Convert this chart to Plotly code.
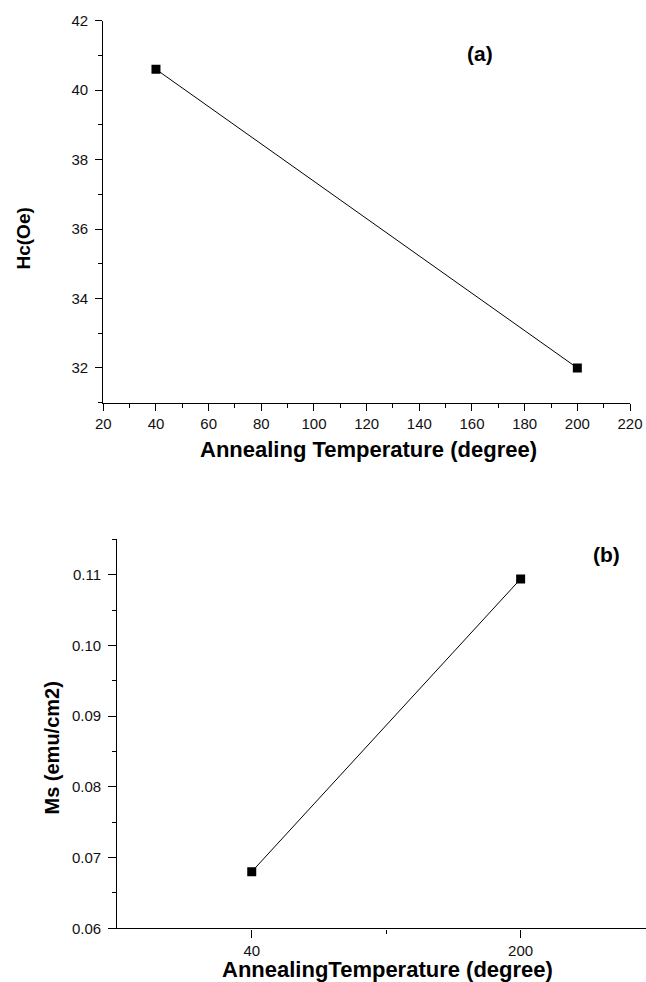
import plotly.graph_objects as go

# Coercivity vs annealing temperature (panel a)
temp_a = [40, 200]
hc_oe = [40.6, 32.0]

# Saturation magnetisation vs annealing temperature (panel b)
temp_b = [40, 200]
ms_emu = [0.068, 0.1094]

W, H = 646, 982
FONT = "Liberation Sans, Arial, sans-serif"


def px_x(p):
    return p / W


def px_y(p):
    return 1 - p / H


fig = go.Figure()

fig.add_trace(go.Scatter(
    x=temp_a, y=hc_oe, mode="lines+markers",
    line=dict(color="black", width=1),
    marker=dict(symbol="square", size=9, color="black"),
    xaxis="x", yaxis="y", showlegend=False,
))
fig.add_trace(go.Scatter(
    x=temp_b, y=ms_emu, mode="lines+markers",
    line=dict(color="black", width=1),
    marker=dict(symbol="square", size=9, color="black"),
    xaxis="x2", yaxis="y2", showlegend=False,
))

tick_font = dict(family=FONT, size=15, color="#111")
axis_common = dict(
    showline=True, linecolor="black", linewidth=1.4,
    showgrid=False, zeroline=False, automargin=False,
    ticks="outside", ticklen=7, tickwidth=1.3, tickcolor="black",
    tickfont=tick_font,
)
minor_common = dict(ticks="outside", ticklen=4, tickwidth=1.3, tickcolor="black")

fig.update_layout(
    width=W, height=H,
    margin=dict(l=0, r=0, t=0, b=0),
    paper_bgcolor="white", plot_bgcolor="white",
    xaxis=dict(
        axis_common, domain=[px_x(103.3), px_x(630)], anchor="y",
        range=[20, 220], tick0=20, dtick=20, ticklabelstandoff=0,
        minor=dict(minor_common, dtick=10),
    ),
    yaxis=dict(
        axis_common, domain=[px_y(402.7), px_y(20.7)], anchor="x",
        range=[31, 42], tick0=32, dtick=2, ticklabelstandoff=4,
        minor=dict(minor_common, dtick=1),
    ),
    xaxis2=dict(
        axis_common, domain=[px_x(117.3), 1.0], anchor="y2",
        range=[-40, 274.6], tickvals=[40, 200], ticklen=8, ticklabelstandoff=0,
        minor=dict(minor_common, tickvals=[120]),
    ),
    yaxis2=dict(
        axis_common, domain=[px_y(928.3), px_y(539.3)], anchor="x2",
        range=[0.06, 0.115], tick0=0.06, dtick=0.01, tickformat=".2f", ticklen=8,
        ticklabelstandoff=4,
        minor=dict(minor_common, dtick=0.005),
    ),
)

annotations = [
    dict(text="<b>Annealing Temperature (degree)</b>", x=px_x(368), y=px_y(449),
         font=dict(family=FONT, size=22, color="black")),
    dict(text="<b>Hc(Oe)</b>", x=px_x(23), y=px_y(238.5), textangle=-90,
         font=dict(family=FONT, size=19, color="black")),
    dict(text="<b>(a)</b>", x=px_x(480), y=px_y(54),
         font=dict(family=FONT, size=21, color="black")),
    dict(text="<b>AnnealingTemperature (degree)</b>", x=px_x(387), y=px_y(969),
         font=dict(family=FONT, size=22, color="black")),
    dict(text="<b>Ms (emu/cm2)</b>", x=px_x(51), y=px_y(748.5), textangle=-90,
         font=dict(family=FONT, size=20, color="black")),
    dict(text="<b>(b)</b>", x=px_x(606.5), y=px_y(554),
         font=dict(family=FONT, size=21, color="black")),
]
for a in annotations:
    a.update(xref="paper", yref="paper", showarrow=False, xanchor="center", yanchor="middle")
fig.update_layout(annotations=annotations)

fig.write_html("out.html")
